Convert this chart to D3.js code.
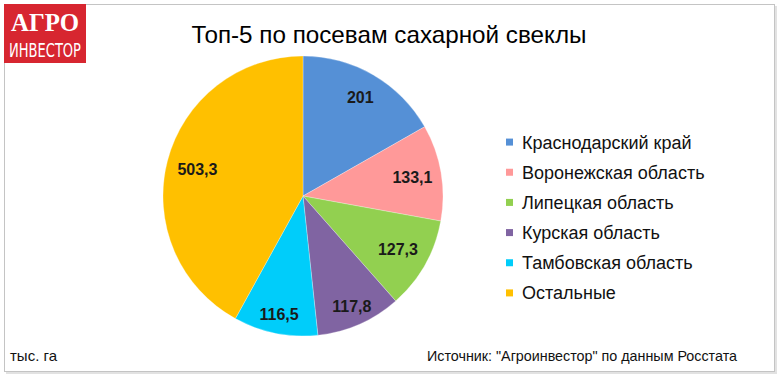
<!DOCTYPE html>
<html>
<head>
<meta charset="utf-8">
<script src="https://cdn.jsdelivr.net/npm/d3@7"></script>
<style>
  body { margin: 0; background: #fff; }
  svg { display: block; font-family: "Liberation Sans", Arial, sans-serif; }
</style>
</head>
<body>
<div id="chart"></div>
<script>
var width = 780;
var height = 377;

var regions = ["Краснодарский край", "Воронежская область", "Липецкая область", "Курская область", "Тамбовская область", "Остальные"];
var areas = [201, 133.1, 127.3, 117.8, 116.5, 503.3];
var areaLabels = ["201", "133,1", "127,3", "117,8", "116,5", "503,3"];
var colors = ["#5590d6", "#ff9999", "#92d050", "#8064a2", "#00cdfa", "#ffc000"];

// how far from the centre each value label sits (excel "best fit")
var labelRadius = [114, 111, 109, 121, 121, 109];

var canvas = d3.select("#chart")
    .append("svg")
    .attr("width", width)
    .attr("height", height);

// frame with a little shadow
canvas.append("rect")
    .attr("x", 6).attr("y", 6)
    .attr("width", 771).attr("height", 368)
    .attr("fill", "#e2e2e2");

canvas.append("rect")
    .attr("x", 4.5).attr("y", 4.5)
    .attr("width", 770).attr("height", 367)
    .attr("fill", "#fff")
    .style("stroke", "#c4c4c4");

// logo
var logo = canvas.append("g").attr("class", "logo");

logo.append("rect")
    .attr("x", 4).attr("y", 4)
    .attr("width", 82).attr("height", 59)
    .attr("fill", "#d72630");

logo.append("text")
    .attr("x", 45).attr("y", 31)
    .attr("text-anchor", "middle")
    .attr("textLength", 68)
    .attr("lengthAdjust", "spacingAndGlyphs")
    .text("АГРО")
    .style("font-family", "'Liberation Serif', 'DejaVu Serif', serif")
    .style("font-weight", "bold")
    .style("font-size", "26px")
    .style("fill", "#fff");

logo.append("text")
    .attr("x", 45).attr("y", 57)
    .attr("text-anchor", "middle")
    .attr("textLength", 72)
    .attr("lengthAdjust", "spacingAndGlyphs")
    .text("ИНВЕСТОР")
    .style("font-family", "'DejaVu Sans Condensed', 'Liberation Sans Narrow', sans-serif")
    .style("font-size", "20px")
    .style("fill", "#fff");

// title
canvas.append("text")
    .attr("x", 389).attr("y", 43)
    .attr("text-anchor", "middle")
    .attr("textLength", 395)
    .attr("lengthAdjust", "spacingAndGlyphs")
    .text("Топ-5 по посевам сахарной свеклы")
    .style("font-size", "24px")
    .style("fill", "#000");

// pie
var cx = 303, cy = 196, radius = 140;

var pie = d3.pie().sort(null).value(function(d) { return d; });
var arcs = pie(areas);
var arc = d3.arc().innerRadius(0).outerRadius(radius);

var g = canvas.append("g")
    .attr("transform", "translate(" + [cx, cy] + ")");

g.selectAll(".slice")
    .data(arcs)
    .enter().append("path")
    .attr("class", "slice")
    .attr("d", arc)
    .attr("fill", function(d, i) { return colors[i]; })
    .style("stroke", "#ffffff")
    .style("stroke-opacity", 0.35)
    .style("stroke-width", 0.8);

g.selectAll(".value")
    .data(arcs)
    .enter().append("text")
    .attr("class", "value")
    .attr("transform", function(d, i) {
        var a = (d.startAngle + d.endAngle) / 2;
        var r = labelRadius[i];
        return "translate(" + [Math.sin(a) * r, -Math.cos(a) * r] + ")";
    })
    .attr("dy", "0.36em")
    .attr("text-anchor", "middle")
    .text(function(d, i) { return areaLabels[i]; })
    .style("font-size", "16px")
    .style("font-weight", "bold")
    .style("fill", "#1a1a1a");

// legend
var legendY = d3.scaleBand().domain(regions).range([127, 308]);

var legend = canvas.selectAll(".legend")
    .data(regions)
    .enter().append("g")
    .attr("class", "legend")
    .attr("transform", function(d) {
        return "translate(" + [506, legendY(d) + legendY.bandwidth() / 2] + ")";
    });

legend.append("rect")
    .attr("x", 0).attr("y", -3.5)
    .attr("width", 7).attr("height", 7)
    .attr("fill", function(d, i) { return colors[i]; });

legend.append("text")
    .attr("x", 16).attr("y", 0)
    .attr("dy", "0.36em")
    .text(function(d) { return d; })
    .style("font-size", "18px")
    .style("fill", "#111");

// footer
canvas.append("text")
    .attr("x", 10).attr("y", 361)
    .text("тыс. га")
    .style("font-size", "15px")
    .style("fill", "#111");

canvas.append("text")
    .attr("x", 427).attr("y", 361)
    .attr("textLength", 310)
    .attr("lengthAdjust", "spacingAndGlyphs")
    .text("Источник: \"Агроинвестор\" по данным Росстата")
    .style("font-size", "15px")
    .style("fill", "#111");
</script>
</body>
</html>
